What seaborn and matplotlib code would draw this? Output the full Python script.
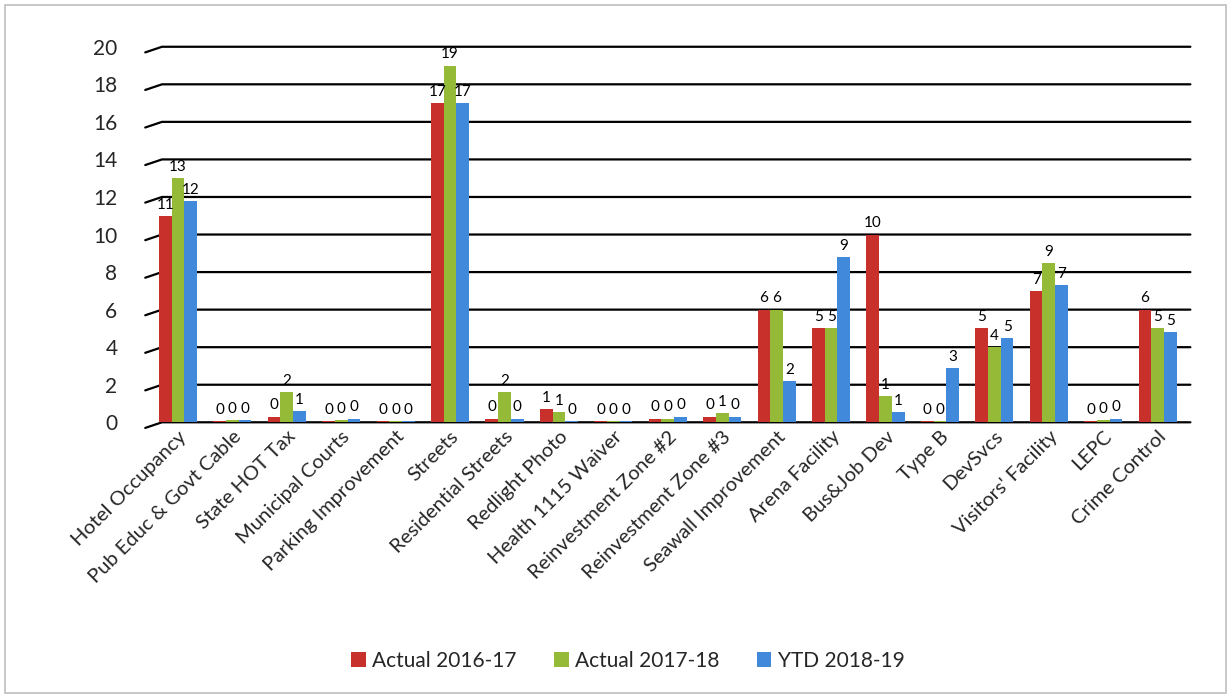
import matplotlib
matplotlib.use("Agg")
import matplotlib.pyplot as plt
import seaborn as sns
import pandas as pd
from matplotlib.patches import Rectangle

categories = ["Hotel Occupancy", "Pub Educ & Govt Cable", "State HOT Tax", "Municipal Courts",
              "Parking Improvement", "Streets", "Residential Streets", "Redlight Photo",
              "Health 1115 Waiver", "Reinvestment Zone #2", "Reinvestment Zone #3",
              "Seawall Improvement", "Arena Facility", "Bus&Job Dev", "Type B", "DevSvcs",
              "Visitors' Facility", "LEPC", "Crime Control"]
actual_2016_17 = [11.0, 0.05, 0.3, 0.05, 0.05, 17.0, 0.2, 0.7, 0.05, 0.2, 0.3, 6.0, 5.0, 10.0, 0.05, 5.0, 7.0, 0.05, 6.0]
actual_2017_18 = [13.0, 0.1, 1.6, 0.1, 0.05, 19.0, 1.6, 0.55, 0.05, 0.2, 0.5, 6.0, 5.0, 1.4, 0.05, 4.0, 8.5, 0.1, 5.0]
ytd_2018_19 = [11.8, 0.1, 0.6, 0.2, 0.05, 17.0, 0.2, 0.05, 0.05, 0.3, 0.3, 2.2, 8.8, 0.55, 2.9, 4.5, 7.3, 0.2, 4.8]
series_names = ["Actual 2016-17", "Actual 2017-18", "YTD 2018-19"]
colors = ["#C8302B", "#94BA37", "#4189DB"]

rows = []
for name, vals in zip(series_names, [actual_2016_17, actual_2017_18, ytd_2018_19]):
    for c, v in zip(categories, vals):
        rows.append({"category": c, "series": name, "value": v})
df = pd.DataFrame(rows)

sns.set_theme(style="white")
plt.rcParams["font.family"] = ["Lato", "DejaVu Sans"]

fig = plt.figure(figsize=(12.31, 6.98), dpi=100)
ax = fig.add_axes([0.118, 0.395, 0.849, 0.538])

sns.barplot(data=df, x="category", y="value", hue="series", palette=colors,
            width=0.7, ax=ax, saturation=1, zorder=3, edgecolor="none")

for cont in ax.containers:
    labels = [f"{int(b.get_height() + 0.5)}" for b in cont]
    ax.bar_label(cont, labels=labels, padding=3, fontsize=11, color="black")

ax.set_ylim(0, 20)
ax.set_yticks(range(0, 21, 2))
ax.set_xlim(-0.6, len(categories) - 0.4)
ytr = ax.get_yaxis_transform()
for y in range(0, 21, 2):
    ax.plot([0.0, 0.016, 1.0], [y - 0.3, y, y], color="black", lw=1.6, zorder=1,
            transform=ytr, clip_on=False)
ax.set_ylim(0, 20)
ax.tick_params(axis="y", labelsize=15, pad=20, length=0)
ax.tick_params(axis="x", labelsize=14.5, length=0, pad=4)
plt.setp(ax.get_xticklabels(), rotation=45, ha="right", rotation_mode="anchor")
ax.set_xlabel("")
ax.set_ylabel("")
for s in ax.spines.values():
    s.set_visible(False)

ax.legend(loc="lower center", bbox_to_anchor=(0.51, 0.012), bbox_transform=fig.transFigure,
          ncol=3, frameon=False, fontsize=15, handlelength=0.7, handleheight=0.7,
          handletextpad=0.3, columnspacing=1.8)

fig.patches.append(Rectangle((0.004, 0.007), 0.992, 0.986, transform=fig.transFigure,
                             fill=False, edgecolor="#BFBFBF", lw=1.2))

fig.savefig("out.png", dpi=100)
